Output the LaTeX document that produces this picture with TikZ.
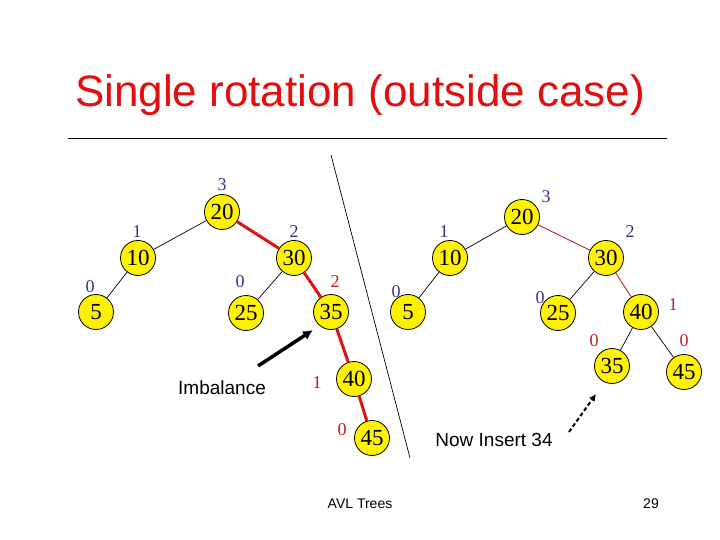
\documentclass[tikz,border=0pt]{standalone}
\usepackage{fontspec}
\setmainfont{Liberation Serif}
\setsansfont{Liberation Sans}
\usetikzlibrary{arrows.meta}
\begin{document}
\begin{tikzpicture}[x=1pt,y=-1pt,
  avl/.style={circle,draw=black,line width=0.8pt,fill=yellow,minimum size=35pt,inner sep=0pt,font=\fontsize{23}{23}\selectfont},
  blab/.style={text=navyb,font=\fontsize{18}{18}\selectfont,inner sep=0pt},
  rlab/.style={text=darkr,font=\fontsize{18}{18}\selectfont,inner sep=0pt},
  thin edge/.style={draw=black,line width=0.7pt},
  hot edge/.style={draw=hotred,line width=3pt},
  warm edge/.style={draw=warmred,line width=0.9pt},
  sftext/.style={font=\sffamily\fontsize{19}{19}\selectfont,inner sep=0pt}]
\definecolor{navyb}{RGB}{51,51,140}
\definecolor{darkr}{RGB}{190,30,30}
\definecolor{hotred}{RGB}{220,20,20}
\definecolor{warmred}{RGB}{185,40,40}
\definecolor{titler}{RGB}{228,14,14}
\useasboundingbox (0,0) rectangle (720,540);
\fill[white] (0,0) rectangle (720,540);
% title
\node[text=titler,font=\sffamily\fontsize{44}{44}\selectfont,inner sep=0pt] (title) at (360,95) {Single rotation (outside case)};
\coordinate (r1) at (68,138);
\coordinate (r2) at (667,138);
\draw[line width=0.8pt] (r1) -- (r2);
% separator
\coordinate (s1) at (331,155);
\coordinate (s2) at (410,458);
\draw[line width=0.7pt] (s1) -- (s2);
% left tree
\node[avl] (L20) at (222,212) {20};
\node[avl] (L10) at (138,258) {10};
\node[avl] (L5) at (96,312) {5};
\node[avl] (L30) at (294,258) {30};
\node[avl] (L25) at (246,313) {25};
\node[avl] (L35) at (331,312) {35};
\node[avl] (L40) at (354,379) {40};
\node[avl] (L45) at (372,438) {45};
\draw[thin edge] (L20) -- (L10);
\draw[thin edge] (L10) -- (L5);
\draw[thin edge] (L30) -- (L25);
\draw[hot edge] (L20) -- (L30);
\draw[hot edge] (L30) -- (L35);
\draw[hot edge] (L35) -- (L40);
\draw[hot edge] (L40) -- (L45);
\node[blab] (lb20) at (222,185) {3};
\node[blab] (lb10) at (137,232) {1};
\node[blab] (lb5) at (90,287) {0};
\node[blab] (lb30) at (294,232) {2};
\node[blab] (lb25) at (240,282) {0};
\node[rlab] (lb35) at (335,282) {2};
\node[rlab] (lb40) at (317,383) {1};
\node[rlab] (lb45) at (342,430) {0};
\node[sftext] (imb) at (222,388) {Imbalance};
\coordinate (a1) at (258,366);
\coordinate (a2) at (313,330);
\draw[line width=3.5pt,-{Latex[length=10pt,width=10pt]}] (a1) -- (a2);
% right tree
\node[avl] (R20) at (522,217) {20};
\node[avl] (R10) at (450,258) {10};
\node[avl] (R5) at (408,312) {5};
\node[avl] (R30) at (606,258) {30};
\node[avl] (R25) at (558,313) {25};
\node[avl] (R40) at (641,312) {40};
\node[avl] (R35) at (612,366) {35};
\node[avl] (R45) at (684,372) {45};
\draw[thin edge] (R20) -- (R10);
\draw[thin edge] (R10) -- (R5);
\draw[thin edge] (R30) -- (R25);
\draw[thin edge] (R40) -- (R35);
\draw[thin edge] (R40) -- (R45);
\draw[warm edge] (R20) -- (R30);
\draw[warm edge] (R30) -- (R40);
\node[blab] (rb20) at (546,197) {3};
\node[blab] (rb10) at (444,232) {1};
\node[blab] (rb5) at (396,292) {0};
\node[blab] (rb30) at (630,232) {2};
\node[blab] (rb25) at (540,298) {0};
\node[rlab] (rb40) at (673,305) {1};
\node[rlab] (rb35) at (594,341) {0};
\node[rlab] (rb45) at (684,341) {0};
\node[sftext] (ins) at (494,440) {Now Insert 34};
\coordinate (d1) at (569,432);
\coordinate (d2) at (596,394);
\draw[line width=2pt,dash pattern=on 4pt off 2.5pt,-{Latex[length=7pt,width=7pt]}] (d1) -- (d2);
% footer
\node[font=\sffamily\fontsize{14}{14}\selectfont,inner sep=0pt] (foot) at (360,504) {AVL Trees};
\node[font=\sffamily\fontsize{14}{14}\selectfont,inner sep=0pt] (page) at (651,504) {29};
\end{tikzpicture}
\end{document}
